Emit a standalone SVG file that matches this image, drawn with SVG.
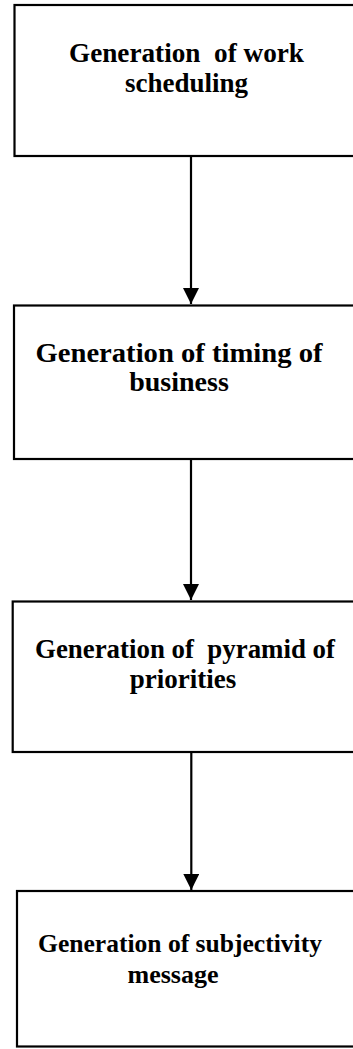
<svg xmlns="http://www.w3.org/2000/svg" width="353" height="1049" viewBox="0 0 353 1049">
<style>
.box{fill:#fff;stroke:#000;stroke-width:2.2}
.lbl{font-family:"Liberation Serif","Times New Roman",serif;font-weight:bold;fill:#000;text-anchor:middle}
.conn{stroke:#000;stroke-width:2.2;fill:none}
</style>
<defs>
<marker id="ah" markerUnits="userSpaceOnUse" markerWidth="18" markerHeight="16" refX="16" refY="8" orient="auto">
<path d="M0,0 L16,8 L0,16 Z" fill="#000"/>
</marker>
</defs>
<rect width="353" height="1049" fill="#fff"/>
<g id="node1">
<rect class="box" x="14.5" y="5" width="350" height="151"/>
<text class="lbl" x="186.5" y="62" font-size="27" textLength="235" lengthAdjust="spacingAndGlyphs" xml:space="preserve">Generation  of work</text>
<text class="lbl" x="186.5" y="92" font-size="27">scheduling</text>
</g>
<g id="node2">
<rect class="box" x="14" y="305.5" width="350" height="153.5"/>
<text class="lbl" x="179" y="361.5" font-size="28" textLength="287" lengthAdjust="spacingAndGlyphs">Generation of timing of</text>
<text class="lbl" x="179" y="390.5" font-size="28">business</text>
</g>
<g id="node3">
<rect class="box" x="12.7" y="601.5" width="350" height="150.5"/>
<text class="lbl" x="185" y="657.5" font-size="27" textLength="300" lengthAdjust="spacingAndGlyphs" xml:space="preserve">Generation of  pyramid of</text>
<text class="lbl" x="183" y="688" font-size="27">priorities</text>
</g>
<g id="node4">
<rect class="box" x="17" y="891" width="350" height="155.5"/>
<text class="lbl" x="180" y="952" font-size="26" textLength="284" lengthAdjust="spacingAndGlyphs">Generation of subjectivity</text>
<text class="lbl" x="173" y="982.5" font-size="26">message</text>
</g>
<g id="connectors">
<line class="conn" x1="191" y1="156" x2="191" y2="304" marker-end="url(#ah)"/>
<line class="conn" x1="191" y1="459" x2="191" y2="600" marker-end="url(#ah)"/>
<line class="conn" x1="191.3" y1="752" x2="191.3" y2="890" marker-end="url(#ah)"/>
</g>
</svg>
